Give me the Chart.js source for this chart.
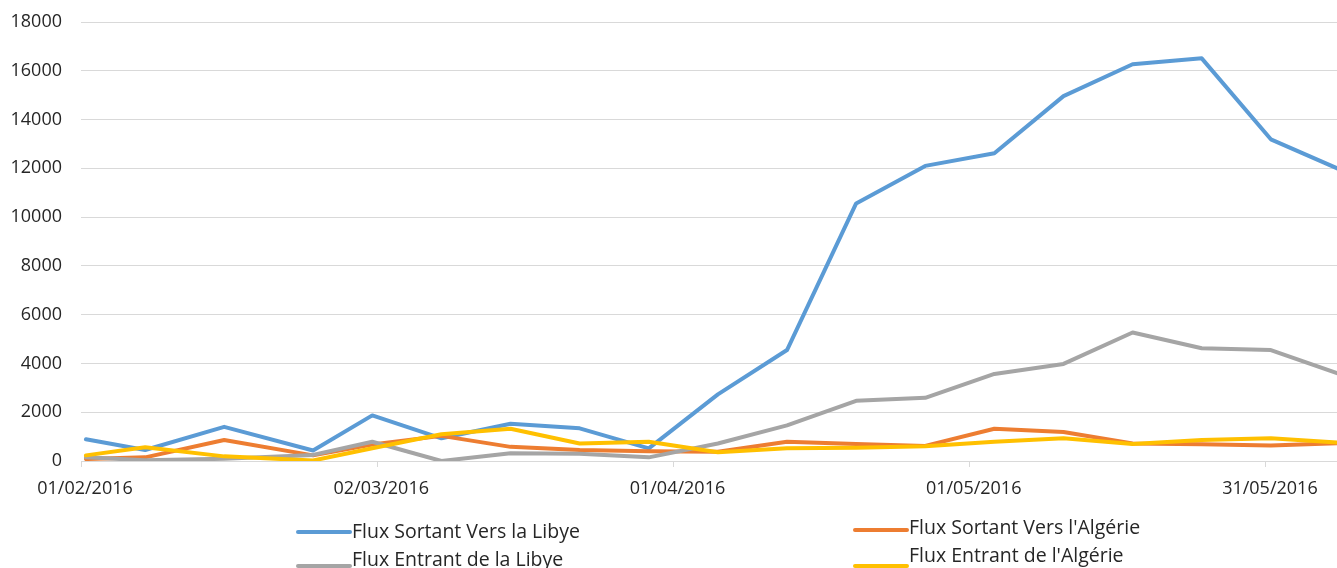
<!DOCTYPE html>
<html>
<head>
<meta charset="utf-8">
<title>Flux Libye / Algérie</title>
<script src="https://cdn.jsdelivr.net/npm/chart.js@4.4.0/dist/chart.umd.min.js"></script>
<style>
    body { margin: 0; background: #fff; }
    canvas { display: block; }
</style>
</head>
<body>
<canvas id="flux-chart" width="1337" height="568"></canvas>
<script>
// Data
const dates = [
    '01/02/2016', '07/02/2016', '15/02/2016', '24/02/2016', '01/03/2016',
    '08/03/2016', '15/03/2016', '22/03/2016', '29/03/2016', '05/04/2016',
    '12/04/2016', '19/04/2016', '26/04/2016', '03/05/2016', '10/05/2016',
    '17/05/2016', '24/05/2016', '31/05/2016', '07/06/2016'
];
const sortantLibye = [890, 450, 1400, 430, 1870, 930, 1530, 1340, 520, 2730, 4550, 10560, 12100, 12620, 14960, 16270, 16510, 13190, 11950];
const sortantAlgerie = [80, 150, 860, 230, 680, 1030, 580, 450, 400, 380, 790, 700, 620, 1320, 1190, 720, 690, 640, 730];
const entrantLibye = [150, 30, 90, 250, 790, 0, 320, 300, 150, 720, 1460, 2470, 2590, 3570, 3980, 5270, 4620, 4550, 3560];
const entrantAlgerie = [230, 560, 190, 20, 520, 1100, 1320, 720, 790, 360, 520, 540, 600, 790, 930, 700, 860, 930, 756];

const seriesLabels = [
    'Flux Sortant Vers la Libye',
    "Flux Sortant Vers l'Algérie",
    'Flux Entrant de la Libye',
    "Flux Entrant de l'Algérie"
];
const seriesColors = ['#5B9BD5', '#ED7D31', '#A5A5A5', '#FFC000'];

const xTickDates = ['01/02/2016', '02/03/2016', '01/04/2016', '01/05/2016', '31/05/2016'];
const yMin = 0, yMax = 18000, yStep = 2000;

// Days since the axis origin (01/02/2016)
function dayOffset(str) {
    const [d, m, y] = str.split('/').map(Number);
    return (Date.UTC(y, m - 1, d) - Date.UTC(2016, 1, 1)) / 86400000;
}

// Excel date axis puts each point in the middle of its day
function toPoints(values) {
    return values.map((v, i) => ({ x: dayOffset(dates[i]) + 0.5, y: v }));
}

// Legend drawn like the Excel one (two columns, line sample then text)
const legendSlots = [
    { x: 298, lineY: 532, textY: 532 },
    { x: 855, lineY: 530, textY: 528 },
    { x: 298, lineY: 566, textY: 560 },
    { x: 855, lineY: 566, textY: 556 }
];
const excelLegend = {
    id: 'excelLegend',
    afterDraw(chart) {
        const ctx = chart.ctx;
        ctx.save();
        ctx.font = "19.5px 'Open Sans', sans-serif";
        ctx.textBaseline = 'middle';
        ctx.fillStyle = '#262626';
        chart.data.datasets.forEach((ds, i) => {
            const slot = legendSlots[i];
            ctx.strokeStyle = ds.borderColor;
            ctx.lineWidth = 4;
            ctx.lineCap = 'round';
            ctx.beginPath();
            ctx.moveTo(slot.x, slot.lineY);
            ctx.lineTo(slot.x + 52, slot.lineY);
            ctx.stroke();
            ctx.fillText(ds.label, slot.x + 54, slot.textY);
        });
        ctx.restore();
    }
};

Chart.defaults.font.family = "'Open Sans', sans-serif";
Chart.defaults.font.size = 18;
Chart.defaults.color = '#262626';

const seriesData = [sortantLibye, sortantAlgerie, entrantLibye, entrantAlgerie];

new Chart(document.getElementById('flux-chart'), {
    type: 'line',
    data: {
        datasets: seriesData.map((values, i) => ({
            label: seriesLabels[i],
            data: toPoints(values),
            borderColor: seriesColors[i],
            backgroundColor: seriesColors[i],
            borderWidth: 4,
            pointRadius: 0,
            tension: 0,
            borderJoinStyle: 'round',
            borderCapStyle: 'round',
            order: 4 - i
        }))
    },
    options: {
        responsive: false,
        animation: false,
        layout: { padding: { top: 22, right: 0, bottom: 0, left: 0 } },
        plugins: {
            legend: { display: false },
            tooltip: { enabled: false }
        },
        scales: {
            x: {
                type: 'linear',
                min: 0,
                max: 127.2,
                afterFit: (scale) => { scale.height = 107; },
                afterBuildTicks: (scale) => {
                    scale.ticks = xTickDates.map(d => ({ value: dayOffset(d) }));
                },
                ticks: {
                    maxRotation: 0,
                    autoSkip: false,
                    padding: 11,
                    labelOffset: 4,
                    callback: (value, index) => xTickDates[index]
                },
                grid: {
                    drawOnChartArea: false,
                    drawTicks: true,
                    tickLength: 6,
                    color: '#d9d9d9'
                },
                border: { color: '#d9d9d9' }
            },
            y: {
                min: yMin,
                max: yMax,
                afterFit: (scale) => {
                    scale.width = 81;
                    scale.paddingTop = 0;
                    scale.paddingBottom = 0;
                },
                ticks: {
                    stepSize: yStep,
                    padding: 19,
                    callback: (value) => String(value)
                },
                grid: { color: '#d9d9d9', drawTicks: false },
                border: { display: false }
            }
        }
    },
    plugins: [excelLegend]
});
</script>
</body>
</html>
